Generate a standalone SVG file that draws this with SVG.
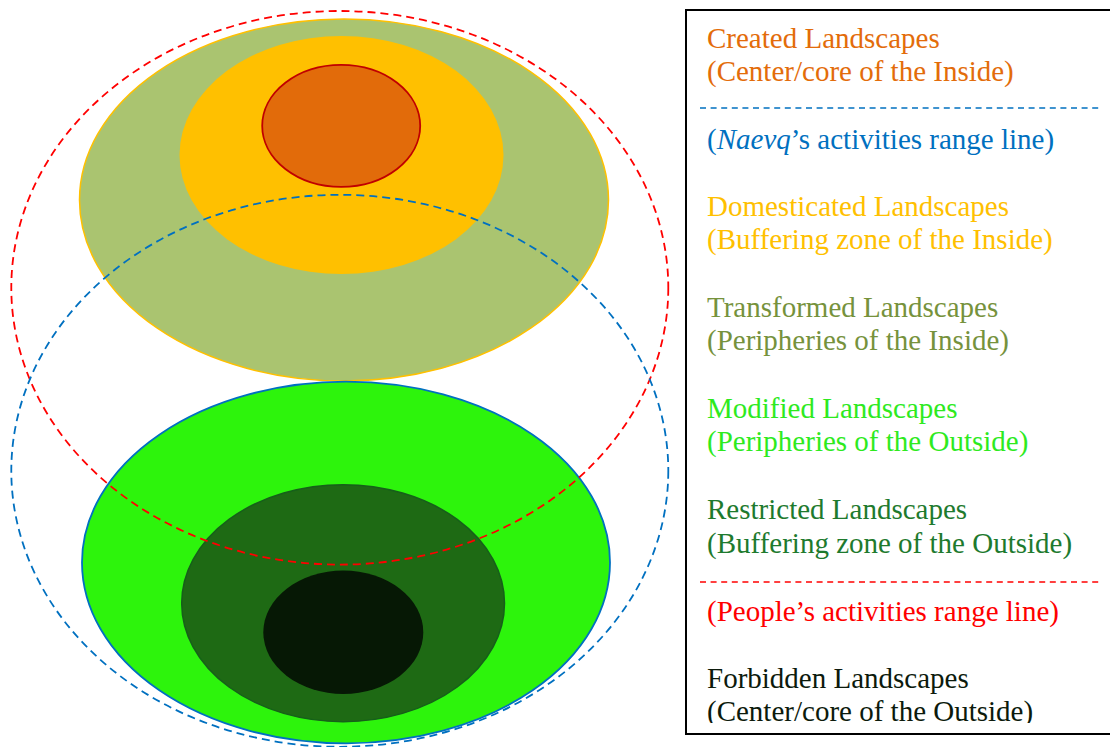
<svg xmlns="http://www.w3.org/2000/svg" width="1110" height="747" viewBox="0 0 1110 747">
  <style>
    .lbl { font-family: "Liberation Serif", "Times New Roman", serif; font-size: 29px; }
    .range { fill: none; stroke-width: 1.8; stroke-dasharray: 8 5; }
  </style>
  <defs>
    <clipPath id="legendClip">
      <rect x="686" y="10" width="430" height="713"/>
    </clipPath>
  </defs>

  <!-- Inside: concentric landscapes -->
  <g id="transformed">
    <ellipse cx="344" cy="200" rx="264.5" ry="181" fill="#AAC470" stroke="#FFC000" stroke-width="1.5"/>
  </g>
  <g id="domesticated">
    <ellipse cx="341.5" cy="155" rx="162" ry="119" fill="#FFC000"/>
  </g>
  <g id="created">
    <ellipse cx="341.2" cy="125.8" rx="79" ry="61" fill="#E26B0A" stroke="#C00000" stroke-width="1.8"/>
  </g>

  <!-- Outside: concentric landscapes -->
  <g id="modified">
    <ellipse cx="346" cy="562.5" rx="264" ry="180.8" fill="#2DF40C" stroke="#0070C0" stroke-width="1.8"/>
  </g>
  <g id="restricted">
    <ellipse cx="343.1" cy="603.2" rx="161.4" ry="118.5" fill="#1E6A14" stroke="#16601A" stroke-width="1.5"/>
  </g>
  <g id="forbidden">
    <ellipse cx="343.3" cy="632.3" rx="80" ry="61.7" fill="#061805"/>
  </g>

  <!-- Activity range lines -->
  <g id="range-lines">
    <ellipse class="range" cx="339.8" cy="287.8" rx="328.5" ry="276.8" stroke="#FF0000"/>
    <ellipse class="range" cx="339.8" cy="470.8" rx="328.5" ry="276" stroke="#0070C0"/>
  </g>

  <!-- Legend -->
  <g id="legend">
    <rect x="686" y="10" width="440" height="724" fill="#FFFFFF" stroke="#000000" stroke-width="2"/>
    <line x1="700" y1="108" x2="1100" y2="108" stroke="#0070C0" stroke-width="1.6" stroke-dasharray="6 4.6"/>
    <line x1="700" y1="582" x2="1100" y2="582" stroke="#FF0000" stroke-width="1.6" stroke-dasharray="6 4.6"/>
    <g clip-path="url(#legendClip)">
      <text class="lbl" x="707" y="48" fill="#E36C0A">Created Landscapes</text>
      <text class="lbl" x="707" y="81" fill="#E36C0A">(Center/core of the Inside)</text>
      <text class="lbl" x="707" y="149" fill="#0070C0">(<tspan font-style="italic">Naevq</tspan>’s activities range line)</text>
      <text class="lbl" x="707" y="216" fill="#FFC000">Domesticated Landscapes</text>
      <text class="lbl" x="707" y="249" fill="#FFC000">(Buffering zone of the Inside)</text>
      <text class="lbl" x="707" y="317" fill="#76923C">Transformed Landscapes</text>
      <text class="lbl" x="707" y="350" fill="#76923C">(Peripheries of the Inside)</text>
      <text class="lbl" x="707" y="418" fill="#2EEA1E">Modified Landscapes</text>
      <text class="lbl" x="707" y="451" fill="#2EEA1E">(Peripheries of the Outside)</text>
      <text class="lbl" x="707" y="519" fill="#1E7A2E">Restricted Landscapes</text>
      <text class="lbl" x="707" y="553" fill="#1E7A2E">(Buffering zone of the Outside)</text>
      <text class="lbl" x="707" y="621" fill="#FF0000">(People’s activities range line)</text>
      <text class="lbl" x="707" y="688" fill="#0C1A0C">Forbidden Landscapes</text>
      <text class="lbl" x="707" y="721" fill="#0C1A0C">(Center/core of the Outside)</text>
    </g>
  </g>
</svg>
